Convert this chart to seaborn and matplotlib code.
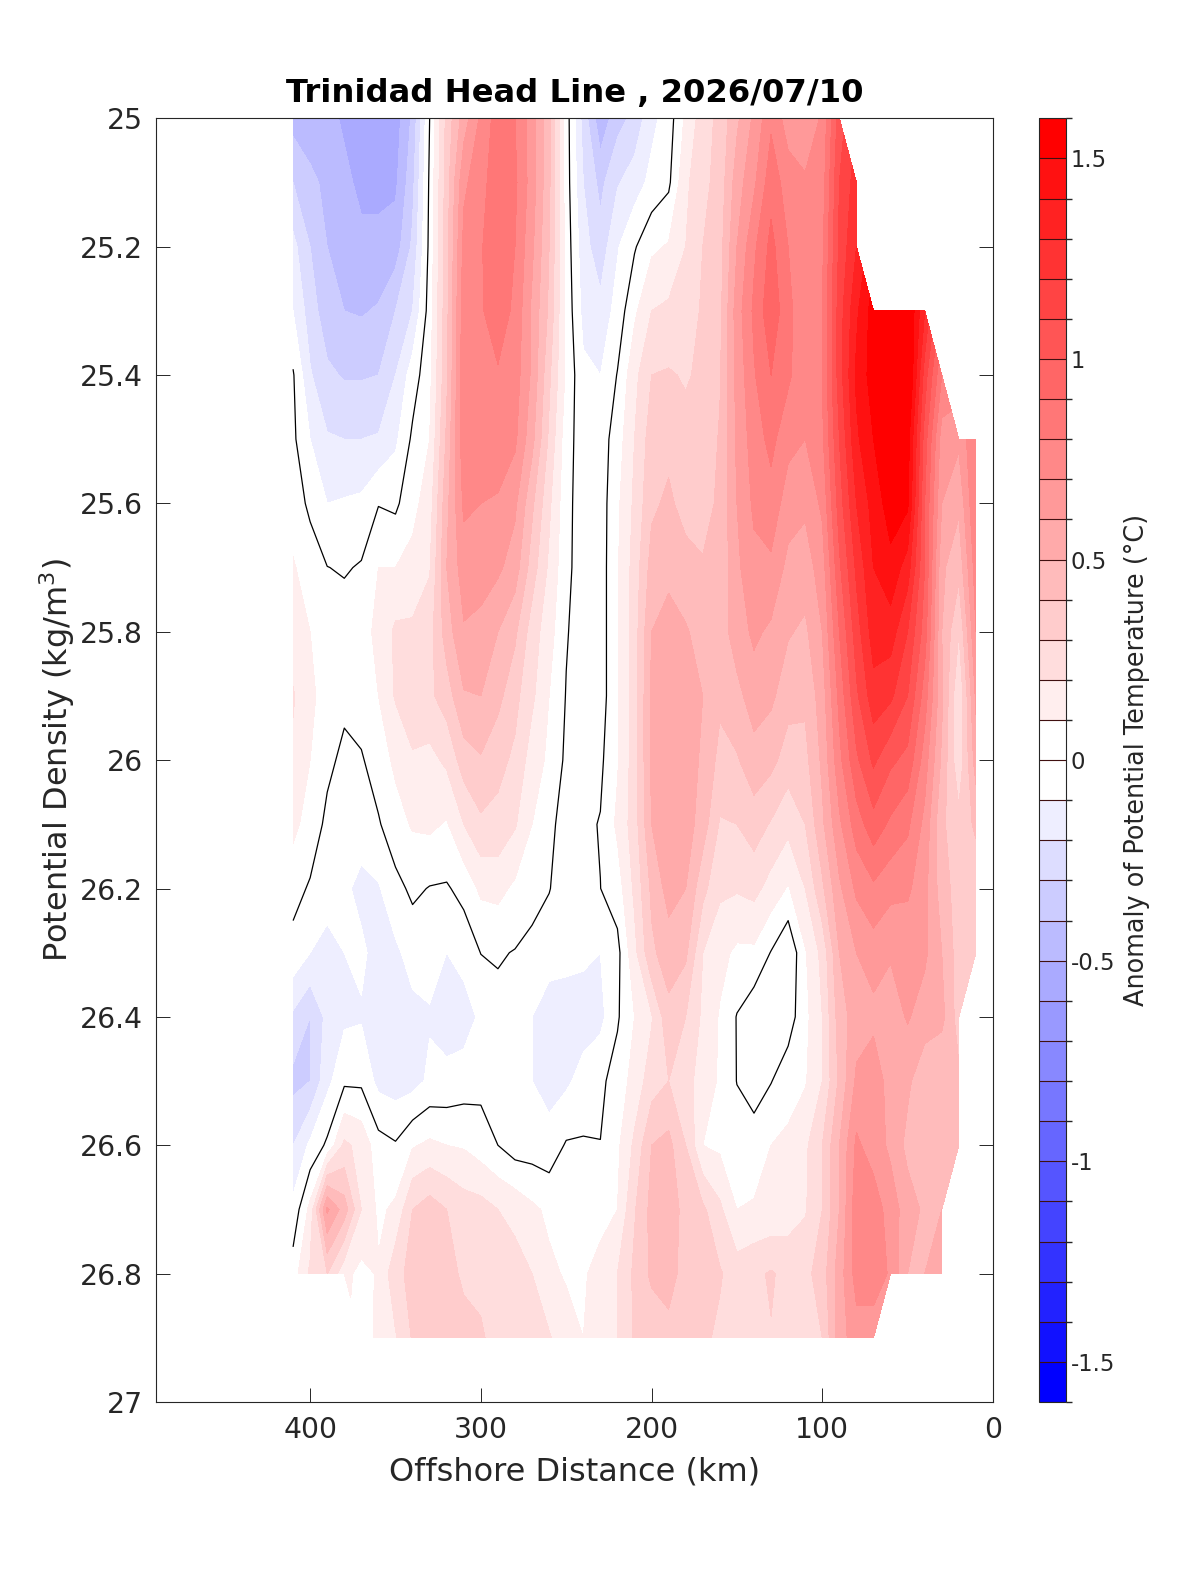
import numpy as np
import matplotlib
matplotlib.use("Agg")
import matplotlib.pyplot as plt
from matplotlib.colors import ListedColormap, BoundaryNorm
from matplotlib.cm import ScalarMappable
import seaborn as sns

n = np.nan
distance = list(range(410, 0, -10))
density = [25.0,25.1,25.2,25.3,25.4,25.5,25.6,25.7,25.8,25.9,26.0,26.1,26.2,26.3,26.4,26.5,26.6,26.7,26.8,26.9]

r2500=[-.44,-.45,-.46,-.52,-.55,-.56,-.55,-.38,.0,.33,
       .55,.72,.85,.8,.65,.42,.05,-.24,-.47,-.34,
       -.27,-.13,-.05,.12,.25,.33,.48,.62,.78,.65,
       .6,.72,1.05,n,n,n,n,n,n,n,n]
r2510=[-.3,-.38,-.42,-.47,-.53,-.53,-.52,-.33,.02,.35,
       .68,.76,.87,.82,.65,.42,.05,-.2,-.33,-.21,
       -.15,-.07,-.02,.18,.27,.34,.55,.68,.86,.75,
       .72,.75,1.1,1.25,n,n,n,n,n,n,n]
r2520=[-.17,-.3,-.4,-.45,-.47,-.47,-.45,-.28,.03,.36,
       .73,.79,.88,.8,.62,.4,.06,-.16,-.26,-.11,
       -.01,.08,.11,.2,.3,.36,.6,.78,.93,.8,
       .75,.78,1.12,1.3,n,n,n,n,n,n,n]
r2530=[-.1,-.25,-.36,-.4,-.41,-.39,-.3,-.2,.05,.37,
       .76,.79,.85,.78,.58,.38,.07,-.13,-.17,-.06,
       .08,.2,.22,.22,.32,.37,.65,.82,.97,.83,
       .72,.8,1.15,1.38,1.55,1.62,1.62,1.3,n,n,n]
r2540=[.01,-.19,-.28,-.31,-.31,-.3,-.2,-.05,.07,.38,
       .77,.79,.79,.75,.58,.32,.08,-.08,-.1,.005,
       .17,.3,.31,.29,.32,.39,.63,.79,.9,.82,
       .72,.8,1.15,1.42,1.55,1.65,1.65,1.15,.8,n,n]
r2550=[.02,-.1,-.19,-.2,-.2,-.19,-.12,.02,.1,.42,
       .77,.78,.75,.72,.53,.28,.04,-.05,-.05,.05,
       .2,.35,.37,.33,.33,.41,.62,.75,.83,.73,
       .7,.78,1.1,1.38,1.5,1.65,1.55,1.05,.65,.62,.8]
r2560=[.05,-.02,-.1,-.09,-.08,-.005,-.02,.07,.15,.47,
       .72,.7,.69,.62,.42,.22,.03,-.05,-.05,.08,
       .22,.38,.42,.36,.36,.42,.6,.72,.76,.65,
       .62,.72,1.05,1.3,1.44,1.55,1.52,1.0,.6,.52,.8]
r2570=[.11,.05,.002,-.01,.01,.1,.1,.13,.19,.5,
       .65,.63,.62,.55,.35,.18,.025,-.05,-.05,.09,
       .24,.44,.48,.44,.41,.42,.58,.67,.68,.57,
       .55,.65,.98,1.22,1.4,1.47,1.35,1.0,.52,.43,.75]
r2580=[.14,.1,.05,.05,.07,.12,.22,.22,.26,.45,
       .59,.58,.5,.42,.25,.14,.008,-.05,-.05,.09,
       .25,.5,.53,.51,.46,.45,.55,.62,.58,.51,
       .48,.6,.9,1.15,1.35,1.35,1.2,.95,.5,.3,.7]
r2590=[.21,.12,.06,.02,.05,.1,.21,.25,.28,.35,
       .49,.5,.43,.33,.22,.1,-.005,-.04,-.05,.09,
       .25,.52,.57,.55,.5,.42,.47,.55,.52,.44,
       .42,.55,.83,1.08,1.26,1.22,1.1,.85,.52,.2,.62]
r2600=[.18,.1,.02,-.02,-.01,.05,.12,.19,.17,.22,
       .35,.39,.33,.28,.15,.08,-.02,-.03,-.02,.09,
       .25,.52,.6,.56,.48,.37,.39,.46,.43,.35,
       .37,.52,.77,.98,1.12,1.02,.97,.75,.48,.22,.55]
r2610=[.13,.05,-.02,-.05,-.05,-.01,.06,.11,.12,.09,
       .2,.28,.27,.21,.1,.03,-.05,-.02,.005,.12,
       .25,.5,.58,.55,.45,.29,.3,.35,.29,.23,
       .3,.48,.68,.85,.96,.88,.82,.67,.42,.33,.42]
r2620=[.03,-.01,-.05,-.08,-.13,-.11,-.03,.02,-.005,-.01,
       .03,.12,.13,.08,.04,.005,-.06,-.05,-.001,.05,
       .22,.42,.54,.5,.33,.22,.21,.23,.16,.09,
       .2,.38,.58,.72,.78,.73,.72,.63,.45,.35,.33]
r2630=[-.03,-.1,-.14,-.1,-.08,-.14,-.12,-.06,-.06,-.1,
       -.06,.002,.01,-.005,-.03,-.06,-.07,-.08,-.1,-.03,
       .17,.38,.45,.42,.2,.13,.08,.08,-.005,-.09,
       .09,.23,.5,.6,.65,.61,.62,.62,.5,.35,.3]
r2640=[-.22,-.3,-.17,-.12,-.11,-.12,-.14,-.13,-.11,-.15,
       -.15,-.08,-.03,-.03,-.1,-.15,-.15,-.15,-.13,-.012,
       .1,.19,.37,.3,.18,.09,-.005,-.07,-.08,-.05,
       .07,.2,.45,.55,.57,.55,.61,.55,.53,.35,n]
r2650=[-.33,-.3,-.13,-.02,-.02,-.13,-.15,-.14,-.08,-.07,
       -.05,-.03,-.04,-.06,-.1,-.14,-.12,-.06,-.02,.04,
       .14,.25,.3,.25,.14,.09,-.003,-.05,-.004,.06,
       .09,.2,.42,.62,.67,.55,.52,.43,.4,.42,n]
r2660=[-.2,-.08,.02,.22,.17,.04,.01,.09,.12,.1,
       .09,.05,.0,-.05,-.05,-.06,.01,.01,.002,.08,
       .22,.4,.43,.3,.1,.08,.05,.05,.1,.12,
       .18,.3,.5,.72,.65,.58,.47,.43,.48,.5,n]
r2670=[-.07,.13,.62,.45,.2,.08,.12,.3,.35,.3,
       .25,.24,.2,.17,.12,.08,.05,.05,.07,.1,
       .29,.43,.48,.35,.32,.22,.1,.11,.12,.15,
       .19,.3,.5,.76,.76,.65,.55,.48,.5,n,n]
r2680=[.05,.22,.3,.13,.07,.11,.27,.33,.34,.32,
       .29,.28,.25,.24,.2,.12,.09,.09,.13,.2,
       .32,.42,.45,.35,.34,.31,.25,.28,.31,.27,
       .27,.35,.55,.74,.78,.68,.5,.5,.55,n,n]
r2690=[n,n,n,n,.05,.12,.19,.31,.33,.33,
       .32,.31,.27,.25,.23,.21,.14,.1,.13,.2,
       .31,.33,.36,.33,.32,.28,.22,.22,.295,.24,
       .22,.3,.55,.66,.62,n,n,n,n,n,n]
anomaly = np.array([r2500,r2510,r2520,r2530,r2540,r2550,r2560,r2570,r2580,r2590,r2600,r2610,r2620,r2630,r2640,r2650,r2660,r2670,r2680,r2690])

band_edges = np.arange(-16, 17) / 10
cbar_ticks = [-1.5,-1,-0.5,0,0.5,1,1.5]
cbar_labels = ['-1.5','-1','-0.5','0','0.5','1','1.5']
x_ticks = [400,300,200,100,0]
y_ticks = [25,25.2,25.4,25.6,25.8,26,26.2,26.4,26.6,26.8,27]
y_labels = ['25','25.2','25.4','25.6','25.8','26','26.2','26.4','26.6','26.8','27']

sns.set_theme(style="white", rc={"font.family": "DejaVu Sans", "text.color": "#262626",
                                 "axes.labelcolor": "#262626", "xtick.color": "#262626", "ytick.color": "#262626"})
blues = sns.blend_palette(["#0000ff", "#ffffff"], 16)
reds = sns.blend_palette(["#ffffff", "#ff0000"], 16)
cmap = ListedColormap(list(blues) + list(reds))
norm = BoundaryNorm(band_edges, cmap.N)

fig = plt.figure(figsize=(12, 15.75), dpi=100)
W, H = 1200, 1575
L, R, T, B = 156.5, 993, 118.3, 1402
ax = fig.add_axes([L/W, 1-B/H, (R-L)/W, (B-T)/H])
ax.contourf(distance, density, anomaly, levels=band_edges, cmap=cmap, norm=norm, extend="both")
ax.contour(distance, density, anomaly, levels=[0], colors="black", linewidths=0.9)
ax.set_xlim(490, 0)
ax.set_ylim(27, 25)
ax.set_xticks(x_ticks)
ax.set_yticks(y_ticks, y_labels)
ax.tick_params(axis="both", which="major", direction="in", length=13.5/100*72, width=0.7,
               top=True, right=True, bottom=True, left=True, labelsize=20.3, color="#262626")
ax.tick_params(axis="x", pad=10)
ax.tick_params(axis="y", pad=10)
for s in ax.spines.values():
    s.set_linewidth(0.8)
    s.set_color("#262626")
    s.set_visible(True)
ax.set_xlabel("Offshore Distance (km)", fontsize=23, labelpad=9)
ax.set_ylabel("Potential Density (kg/m$^3$)", fontsize=23, labelpad=2)
ax.set_title("Trinidad Head Line , 2026/07/10", fontsize=23.2, fontweight="bold", color="black", pad=12)

cax = fig.add_axes([1039.3/W, 1-B/H, 26.7/W, (B-T)/H])
cb = fig.colorbar(ScalarMappable(norm=norm, cmap=cmap), cax=cax, boundaries=band_edges,
                  ticks=cbar_ticks, spacing="proportional")
cb.set_ticklabels(cbar_labels)
cb.ax.tick_params(length=0, labelsize=16.4, pad=3.5, color="#262626")
cb.outline.set_linewidth(0.8)
cb.outline.set_edgecolor("#262626")
cb.dividers.set_visible(False)
cb.ax.hlines(band_edges, 0, 1, transform=cb.ax.get_yaxis_transform(), colors="#401010", linewidths=0.8)
cb.set_label("Anomaly of Potential Temperature (°C)", fontsize=18.4, labelpad=6)
fig.savefig("out.png", dpi=100)
